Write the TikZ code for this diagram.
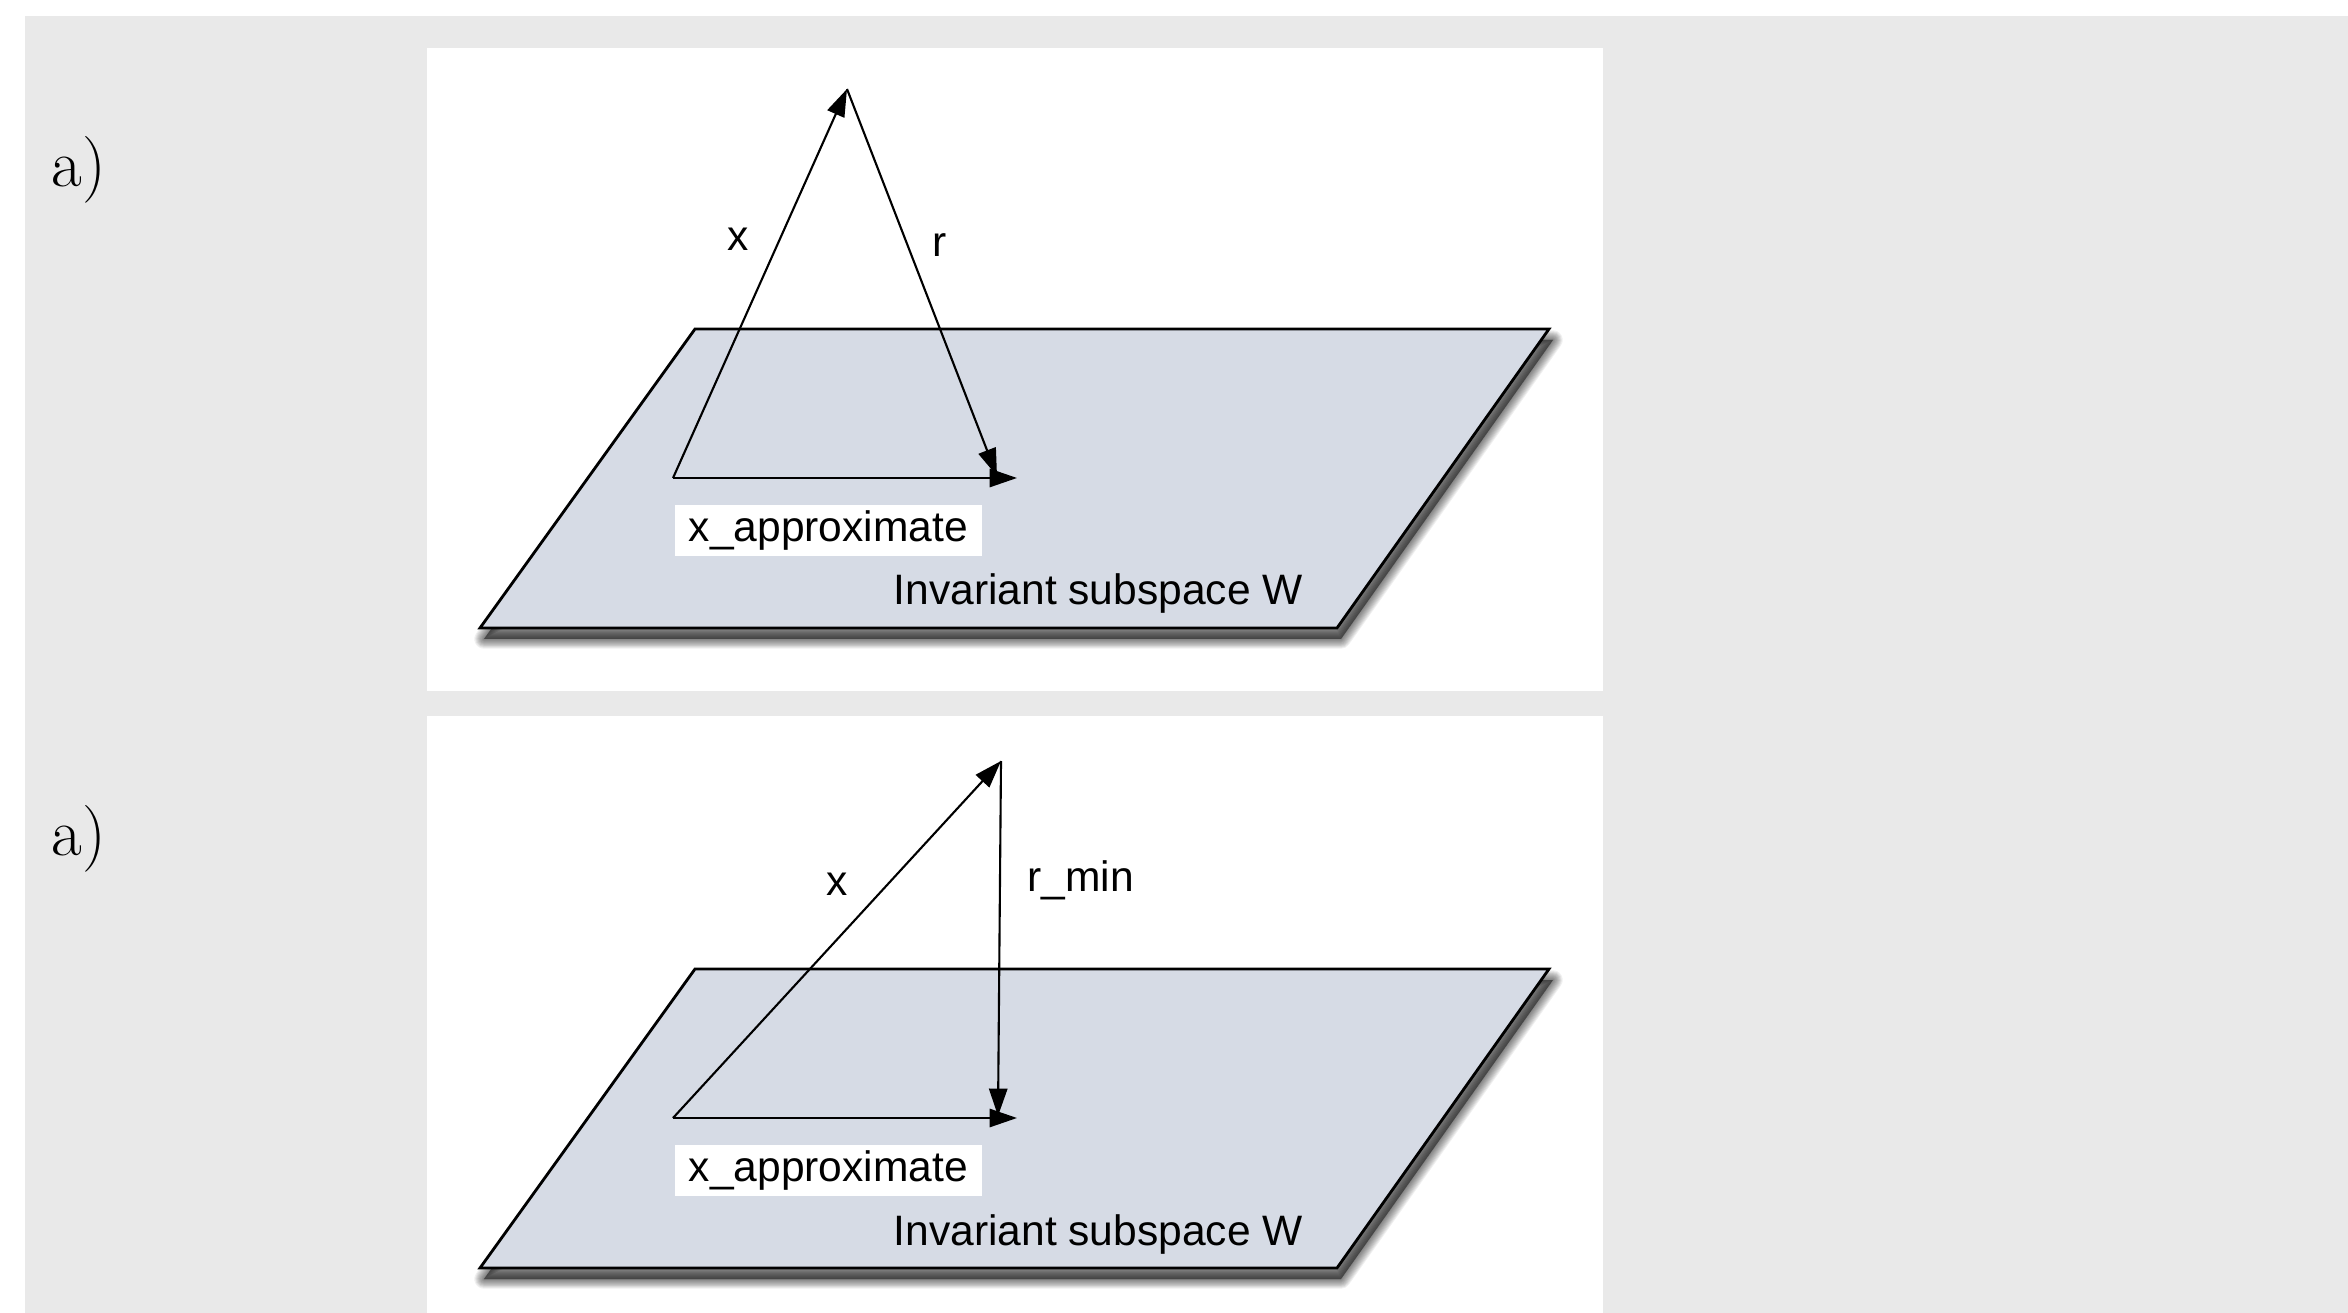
\documentclass[tikz,border=0pt]{standalone}
\usepackage{fontspec}
\newfontfamily\arial{Liberation Sans}
\usetikzlibrary{arrows.meta}
\definecolor{bggray}{RGB}{233,233,233}
\definecolor{planefill}{RGB}{214,219,229}
\begin{document}
\begin{tikzpicture}[x=0.01cm,y=-0.01cm,
  plane/.style={draw=black, fill=planefill, line width=0.8pt, line join=miter},
  planeshadow/.style={fill=black, fill opacity=0.06, draw=black, draw opacity=0.06, line join=round, shift={(4,11)}},
  vec/.style={draw=black, line width=0.6pt, -{Triangle[length=7.8pt,width=5.2pt]}},
  lab/.style={font=\arial\fontsize{12.1pt}{14pt}\selectfont, inner sep=0pt},
  boxlab/.style={lab, fill=white, minimum width=3.07cm, minimum height=0.51cm, anchor=north west},
  partlab/.style={font=\fontsize{19pt}{22pt}\selectfont, inner sep=0pt, anchor=base west}]
\useasboundingbox (0,0) rectangle (2348,1313);
\fill[white] (0,0) rectangle (2348,1313);
\fill[bggray] (25,16) rectangle (2348,1313);
\fill[white] (427,48) rectangle (1603,691);
\fill[white] (427,716) rectangle (1603,1313);

% part labels
\node[partlab] (pa) at (51,187) {a)};
\node[partlab] (pb) at (51,856) {a)};

% ---------- panel 1 ----------
\foreach \k in {1,...,10}{
  \filldraw[planeshadow, line width={\k*0.55pt}]
    (695,329) -- (1549,329) -- (1337,628) -- (480,628) -- cycle;
}
\draw[plane] (695,329) -- (1549,329) -- (1337,628) -- (480,628) -- cycle;
\coordinate (o1) at (673,478);
\coordinate (a1) at (847,89);
\coordinate (e1) at (1017,478);
\coordinate (t1) at (997,476);
\draw[vec] (o1) -- (a1);
\draw[vec] (a1) -- (t1);
\draw[vec] (o1) -- (e1);
\node[lab, anchor=base] (xl1) at (738,251) {x};
\node[lab, anchor=base] (rl1) at (940,257) {r};
\node[boxlab] (xa1) at (674,504) {x\_approximate};
\node[lab, anchor=base west] (w1) at (893,605) {Invariant subspace W};

% ---------- panel 2 ----------
\foreach \k in {1,...,10}{
  \filldraw[planeshadow, line width={\k*0.55pt}]
    (695,969) -- (1549,969) -- (1337,1268) -- (480,1268) -- cycle;
}
\draw[plane] (695,969) -- (1549,969) -- (1337,1268) -- (480,1268) -- cycle;
\coordinate (o2) at (673,1118);
\coordinate (a2) at (1001,761);
\coordinate (e2) at (1017,1118);
\coordinate (t2) at (998,1116);
\draw[vec] (o2) -- (a2);
\draw[vec] (a2) -- (t2);
\draw[vec] (o2) -- (e2);
\node[lab, anchor=base] (xl2) at (837,896) {x};
\node[lab, anchor=base west] (rl2) at (1027,892) {r\_min};
\node[boxlab] (xa2) at (674,1144) {x\_approximate};
\node[lab, anchor=base west] (w2) at (893,1245) {Invariant subspace W};
\end{tikzpicture}
\end{document}
